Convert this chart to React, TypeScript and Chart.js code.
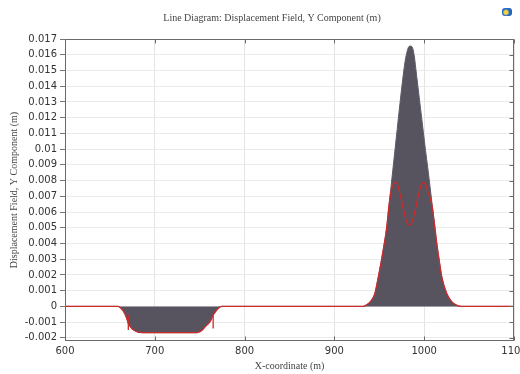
import React, { useEffect, useRef } from "react";
import { Chart, registerables } from "chart.js";
Chart.register(...registerables);

// Filled (gray) profile
const fillX = [600, 650, 659, 662, 665, 668.7, 670.5, 674.3, 679.8, 686, 745, 749, 753, 756, 761.5, 765, 769, 772, 775, 790, 932, 936, 940, 945, 949, 952, 955, 958, 961, 964, 967, 970, 973, 976, 978.5, 980.5, 982.5, 984.5, 986.5, 988.7, 991.5, 994, 996.5, 999, 1001.5, 1004, 1006.5, 1009, 1011.5, 1014, 1016.5, 1019.5, 1025, 1030.6, 1036, 1041.7, 1060, 1100];
const fillY = [0, 0, 0, -0.0001, -0.0003, -0.00075, -0.00107, -0.0014, -0.0016, -0.00167, -0.00167, -0.00163, -0.0015, -0.0013, -0.00097, -0.00055, -0.00023, -0.00005, 0, 0, 0, 0.0001, 0.0003, 0.0008, 0.0019, 0.0028, 0.0038, 0.0049, 0.0065, 0.0081, 0.0097, 0.0113, 0.0129, 0.0144, 0.0155, 0.0161, 0.01648, 0.01655, 0.0165, 0.016, 0.0147, 0.0135, 0.0123, 0.0111, 0.0099, 0.0088, 0.0076, 0.0064, 0.0052, 0.004, 0.003, 0.0019, 0.00083, 0.0003, 0.00008, 0, 0, 0];

// Red line profile
const redX = [600, 650, 659, 662, 665, 668.7, 670.5, 674.3, 679.8, 686, 745, 749, 753, 756, 761.5, 765, 769, 772, 775, 790, 932, 936, 940, 945, 949, 952, 955, 958, 961, 963, 965.5, 968, 970.5, 974, 978, 981, 983.4, 986, 989.5, 993, 996.5, 999, 1001.5, 1004, 1006.5, 1009, 1011.5, 1014, 1016.5, 1019.5, 1025, 1030.6, 1036, 1041.7, 1060, 1100];
const redY = [0, 0, 0, -0.0001, -0.0003, -0.00075, -0.00107, -0.0014, -0.0016, -0.00167, -0.00167, -0.00163, -0.0015, -0.0013, -0.00097, -0.00055, -0.00023, -0.00005, 0, 0, 0, 0.0001, 0.0003, 0.0008, 0.0019, 0.0028, 0.0038, 0.0049, 0.0065, 0.0073, 0.00775, 0.0079, 0.0077, 0.0069, 0.0059, 0.0053, 0.00517, 0.0053, 0.006, 0.0069, 0.0077, 0.00786, 0.0078, 0.0073, 0.0069, 0.0063, 0.0052, 0.004, 0.003, 0.0019, 0.00083, 0.0003, 0.00008, 0, 0, 0];

// Red vertical edges in the depression
const edgeX = [670.5, 670.5, null, 765, 765];
const edgeY = [-0.00055, -0.0015, null, -0.00055, -0.0014];

const xTicks = [600, 700, 800, 900, 1000, 1100];
const yTicks = [-0.002, -0.001, 0, 0.001, 0.002, 0.003, 0.004, 0.005, 0.006, 0.007, 0.008, 0.009, 0.01, 0.011, 0.012, 0.013, 0.014, 0.015, 0.016, 0.017];

const titleText = "Line Diagram: Displacement Field, Y Component (m)";
const xTitle = "X-coordinate (m)";
const yTitle = "Displacement Field, Y Component (m)";

const framePlugin = {
  id: "frame",
  afterDraw(chart: any) {
    const { ctx, chartArea: a, scales } = chart;
    ctx.save();
    ctx.fillStyle = "#444";
    ctx.font = "10px 'Liberation Serif'";
    ctx.textAlign = "center";
    ctx.textBaseline = "middle";
    ctx.fillText(titleText, 272, 18);
    ctx.strokeStyle = "#6a6a6a";
    ctx.lineWidth = 1;
    const l = Math.round(a.left) + 0.5;
    const r = Math.round(a.right) - 0.5;
    const t = Math.round(a.top) + 0.5;
    const b = Math.round(a.bottom) - 0.5;
    ctx.strokeRect(l, t, r - l, b - t);
    ctx.beginPath();
    for (const v of xTicks) {
      const px = Math.round(scales.x.getPixelForValue(v)) + 0.5;
      ctx.moveTo(px, b);
      ctx.lineTo(px, b - 4);
      ctx.moveTo(px, t);
      ctx.lineTo(px, t + 4);
    }
    for (const v of yTicks) {
      const py = Math.round(scales.y.getPixelForValue(v)) + 0.5;
      ctx.moveTo(r, py);
      ctx.lineTo(r - 4, py);
    }
    ctx.stroke();
    ctx.restore();
  },
};

export default function App() {
  const ref = useRef<HTMLCanvasElement>(null);
  useEffect(() => {
    document.body.style.margin = "0";
    const fillData = fillX.map((x, i) => ({ x, y: fillY[i] }));
    const redData = redX.map((x, i) => ({ x, y: redY[i] }));
    const edgeData = edgeX.map((x, i) => ({ x: x as any, y: edgeY[i] as any }));
    const chart = new Chart(ref.current!, {
      type: "line",
      data: {
        datasets: [
          {
            data: redData,
            borderColor: "#cc2b2b",
            borderWidth: 1.3,
            pointRadius: 0,
            fill: false,
            cubicInterpolationMode: "monotone",
            order: 0,
          },
          {
            data: edgeData,
            borderColor: "#cc2b2b",
            borderWidth: 1.3,
            pointRadius: 0,
            fill: false,
            spanGaps: false,
            tension: 0,
            order: 0,
          },
          {
            data: fillData,
            borderColor: "#5f5a67",
            backgroundColor: "#57535f",
            borderWidth: 1,
            pointRadius: 0,
            fill: "origin",
            cubicInterpolationMode: "monotone",
            order: 1,
          },
        ],
      },
      options: {
        animation: false,
        responsive: false,
        layout: { padding: { left: 0, right: 6, top: 39, bottom: 0 } },
        plugins: {
          legend: { display: false },
          tooltip: { enabled: false },
          title: { display: false },
        },
        scales: {
          x: {
            type: "linear",
            min: 600,
            max: 1100,
            afterBuildTicks: (s: any) => {
              s.ticks = xTicks.map((v) => ({ value: v }));
            },
            afterFit: (s: any) => {
              s.height = 33;
              s.paddingLeft = 0;
              s.paddingRight = 0;
            },
            ticks: {
              color: "#333",
              font: { family: "DejaVu Sans", size: 10 },
              padding: 4,
              maxRotation: 0,
              callback: (v: any) => String(v),
            },
            grid: { color: "#e4e4e4", drawTicks: false },
            border: { display: false },
            title: {
              display: true,
              text: xTitle,
              color: "#444",
              font: { family: "Liberation Serif", size: 10 },
              padding: { top: 0, bottom: 2 },
            },
          },
          y: {
            type: "linear",
            min: -0.0022,
            max: 0.017,
            afterBuildTicks: (s: any) => {
              s.ticks = yTicks.map((v) => ({ value: v }));
            },
            afterFit: (s: any) => {
              s.width = 65;
              s.paddingTop = 0;
              s.paddingBottom = 0;
            },
            ticks: {
              color: "#333",
              font: { family: "DejaVu Sans", size: 10 },
              padding: 3,
              callback: (v: any) => String(Number(Number(v).toFixed(3))),
            },
            grid: { color: "#ebebeb", drawTicks: true, tickLength: 5, tickColor: "#777" },
            border: { display: false },
            title: {
              display: true,
              text: yTitle,
              color: "#444",
              font: { family: "Liberation Serif", size: 10 },
              padding: { top: 8, bottom: 0 },
            },
          },
        },
      },
      plugins: [framePlugin],
    });
    return () => chart.destroy();
  }, []);
  return (
    <div style={{ position: "relative", width: 520, height: 374, background: "#fff" }}>
      <canvas ref={ref} width={520} height={374} />
      <div
        style={{
          position: "absolute",
          left: 502,
          top: 8,
          width: 10,
          height: 8,
          borderRadius: 3,
          background: "radial-gradient(circle at 40% 55%, #f3d23a 0 25%, #2a6fd0 45%, #1d4fa8 100%)",
        }}
      />
    </div>
  );
}
